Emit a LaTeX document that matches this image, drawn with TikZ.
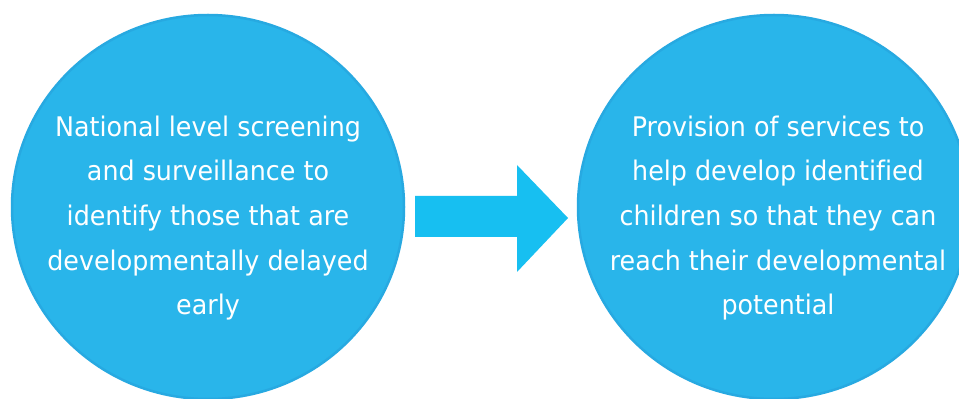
\documentclass[tikz,border=0pt]{standalone}
\usepackage{fontspec}
\setmainfont{DejaVu Sans}[FakeStretch=0.94,Ligatures=NoCommon]
\definecolor{circfill}{HTML}{29B5EA}
\definecolor{circline}{HTML}{27A9E1}
\definecolor{arrowfill}{HTML}{17BFF1}
\tikzset{
  bubble/.style={ellipse, draw=circline, line width=2.5pt, fill=circfill, minimum width=392pt, minimum height=384pt, inner sep=0pt},
  bubbletext/.style={text=white, align=center, font=\fontsize{27}{44.6}\selectfont},
}
\usetikzlibrary{shapes.geometric}
\begin{document}
\begin{tikzpicture}[x=1pt,y=1pt]
\useasboundingbox[fill=white] (0,0) rectangle (959,399);
\node[bubble] (left) at (208,192) {};
\node[bubble] (right) at (774,192) {};
\node[bubbletext] (lt) at (208,181) {National level screening\\and surveillance to\\identify those that are\\developmentally delayed\\early};
\node[bubbletext] (rt) at (778,181) {Provision of services to\\help develop identified\\children so that they can\\reach their developmental\\potential};
\fill[arrowfill] (415,203) -- (517,203) -- (517,234) -- (568,181) -- (517,127) -- (517,162) -- (415,162) -- cycle;
\end{tikzpicture}
\end{document}
